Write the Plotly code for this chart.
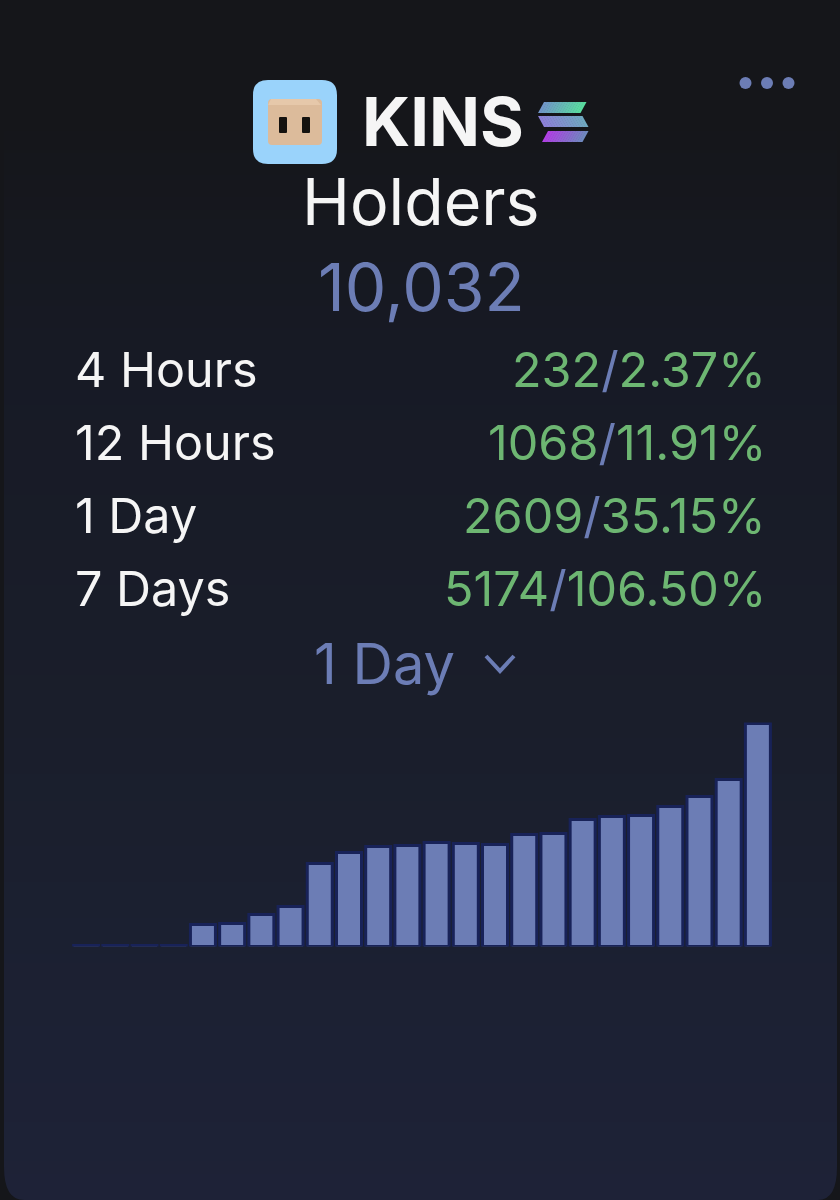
import plotly.graph_objects as go

W, H = 840, 1200

# Data
hours = [f"{i}" for i in range(24)]
bar_values = [1, 1, 1, 1, 22, 23, 32, 40, 83, 94, 100, 101, 104, 103, 102, 112, 113, 127, 130, 131, 140, 150, 167, 223]
stat_labels = ["4 Hours", "12 Hours", "1 Day", "7 Days"]
stat_counts = ["232", "1068", "2609", "5174"]
stat_percents = ["2.37%", "11.91%", "35.15%", "106.50%"]
token = "KINS"
metric = "Holders"
total = "10,032"
period = "1 Day"

BLUE = "#6c7db5"
GREEN = "#6db672"
WHITE = "#f5f5f5"
OUTER = "#15161a"


def px(x):
    return x / W


def py(y):
    return 1 - y / H


def rrect(x0, y0, x1, y1, r):
    return (f"M{px(x0+r)},{py(y0)} L{px(x1-r)},{py(y0)} Q{px(x1)},{py(y0)} {px(x1)},{py(y0+r)} "
            f"L{px(x1)},{py(y1-r)} Q{px(x1)},{py(y1)} {px(x1-r)},{py(y1)} "
            f"L{px(x0+r)},{py(y1)} Q{px(x0)},{py(y1)} {px(x0)},{py(y1-r)} "
            f"L{px(x0)},{py(y0+r)} Q{px(x0)},{py(y0)} {px(x0+r)},{py(y0)} Z")


def poly(points):
    return "M" + " L".join(f"{px(a)},{py(b)}" for a, b in points) + " Z"


def mix(c1, c2, t):
    a = [int(c1[i:i + 2], 16) for i in (1, 3, 5)]
    b = [int(c2[i:i + 2], 16) for i in (1, 3, 5)]
    return "#" + "".join(f"{round(p + (q - p) * t):02x}" for p, q in zip(a, b))


fig = go.Figure()

# background gradient (first subplot, so it is drawn below the bars)
fig.add_trace(go.Heatmap(
    z=[[0, 0], [1, 1]], y=[1, 0], x=[0, 1], xaxis="x", yaxis="y", zsmooth="best", showscale=False,
    colorscale=[[0, "#15161a"], [0.1, "#15161a"], [0.3, "#171a25"], [0.6, "#1a1e2b"], [0.87, "#1c2134"], [1, "#1e2237"]],
    zmin=0, zmax=1, hoverinfo="skip",
))

fig.add_trace(go.Bar(
    x=hours, y=bar_values, width=0.856, xaxis="x2", yaxis="y2",
    marker=dict(color=BLUE, line=dict(color="#182258", width=3)),
    hoverinfo="skip",
))

shapes = [
    # card edge and bottom corners
    dict(type="rect", x0=0, x1=px(4), y0=0, y1=1, fillcolor=OUTER, line_width=0),
    dict(type="rect", x0=px(837), x1=1, y0=0, y1=1, fillcolor=OUTER, line_width=0),
    dict(type="path", path=f"M0,{py(1167)} L{px(4)},{py(1167)} Q{px(4)},{py(1200)} {px(24)},{py(1200)} L0,{py(1200)} Z",
         fillcolor=OUTER, line_width=0),
    dict(type="path", path=f"M1,{py(1167)} L{px(837)},{py(1167)} Q{px(837)},{py(1200)} {px(818)},{py(1200)} L1,{py(1200)} Z",
         fillcolor=OUTER, line_width=0),
    # token icon
    dict(type="path", path=rrect(253, 80, 337, 164, 15), fillcolor="#9ad3fb", line_width=0),
    dict(type="path", path=rrect(268, 99, 322, 145, 4), fillcolor="#dcbb9b", line_width=0),
    dict(type="path", path=poly([(271, 99), (316, 99), (321, 105), (268, 105)]), fillcolor="#e6c8aa", line_width=0),
    dict(type="path", path=rrect(279, 117, 287, 133, 1), fillcolor="#15120f", line_width=0),
    dict(type="path", path=rrect(302, 117, 310, 133, 1), fillcolor="#15120f", line_width=0),
]
# Solana mark, each stripe split into short stretches of colour
stripes = [
    (102, 113, 538, 586, 1, "#7196c8", "#5adca0"),
    (116, 127, 538, 588, -1, "#8c80d8", "#70a8c0"),
    (131, 142, 542, 588, 1, "#b040e4", "#7088c0"),
]
slant = 6
n = 16
for top, bot, x_left, x_right, sign, c1, c2 in stripes:
    for i in range(n):
        a = x_left + (x_right - x_left - slant) * i / n
        b = x_left + (x_right - x_left - slant) * (i + 1) / n + 0.5
        if sign > 0:
            pts = [(a + slant, top), (b + slant, top), (b, bot), (a, bot)]
        else:
            pts = [(a, top), (b, top), (b + slant, bot), (a + slant, bot)]
        shapes.append(dict(type="path", path=poly(pts), fillcolor=mix(c1, c2, i / (n - 1)), line_width=0))
# menu dots
for cx in (745.5, 767, 788.5):
    shapes.append(dict(type="circle", x0=px(cx - 6), x1=px(cx + 6), y0=py(89), y1=py(77),
                       fillcolor=BLUE, line_width=0))
# chevron
shapes.append(dict(type="path", path=f"M{px(486)},{py(656)} L{px(500)},{py(671)} L{px(514)},{py(656)}",
                   line=dict(color=BLUE, width=4), fillcolor="rgba(0,0,0,0)"))
for s in shapes:
    s.update(xref="paper", yref="paper")


def note(text, x, y, size, color, anchor="center", weight=400):
    return dict(text=text, x=px(x), y=py(y), xref="paper", yref="paper", xanchor=anchor, yanchor="middle",
                showarrow=False, font=dict(family="Inter", size=size, color=color, weight=weight))


annotations = [
    note(token, 442.5, 121, 67, WHITE, weight=700),
    note(metric, 421, 202, 64.5, WHITE),
    note(total, 421, 287, 66, BLUE),
    note(period, 384, 664, 56, BLUE),
]
row_y = [369, 442, 515, 588]
for lab, cnt, pct, y in zip(stat_labels, stat_counts, stat_percents, row_y):
    annotations.append(note(lab, 73, y, 48.5, WHITE, anchor="left"))
    val = f'{cnt}<span style="color:{BLUE}">/</span>{pct}'
    annotations.append(note(val, 768, y, 48.5, GREEN, anchor="right"))

fig.update_layout(
    width=W, height=H, margin=dict(l=0, r=0, t=0, b=0), autosize=False,
    paper_bgcolor=OUTER, plot_bgcolor="rgba(0,0,0,0)", showlegend=False,
    xaxis=dict(domain=[0, 1], range=[0, 1], visible=False, anchor="y"),
    yaxis=dict(domain=[0, 1], range=[0, 1], visible=False, anchor="x"),
    xaxis2=dict(domain=[px(71.5), px(772.5)], visible=False, type="category", range=[-0.5, 23.5], anchor="y2"),
    yaxis2=dict(domain=[py(946.5), py(722.5)], visible=False, range=[0, 224], anchor="x2"),
    shapes=shapes, annotations=annotations,
)

fig.write_html("out.html", config={"displayModeBar": False},
               post_script="document.body.style.margin='0';document.documentElement.style.background='#15161a';")
